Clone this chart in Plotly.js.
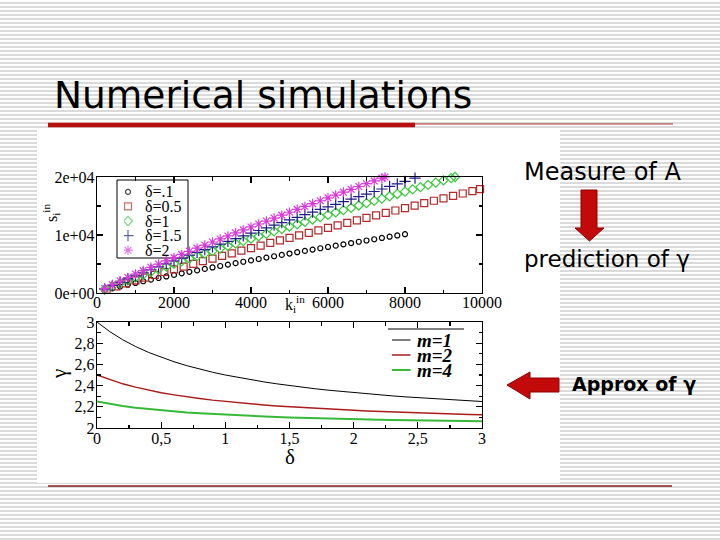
<!DOCTYPE html>
<html>
<head>
<meta charset="utf-8">
<script src="https://cdn.plot.ly/plotly-3.0.1.min.js"></script>
<style>
  html, body { margin:0; padding:0; }
  body {
    width:720px; height:540px; overflow:hidden;
    background: repeating-linear-gradient(to bottom, #ffffff 0px, #ffffff 2px, #dadada 2px, #dadada 4px);
  }
  #chart { width:720px; height:540px; }
</style>
</head>
<body>
<div id="chart"></div>
<script>
// ---------- top chart data: s_i^in versus k_i^in ----------
const deltaLabels = ["δ=.1", "δ=0.5", "δ=1", "δ=1.5", "δ=2"];

const kD01 = [200,400,600,800,1000,1200,1400,1600,1800,2000,2200,2400,2600,2800,3000,3200,3400,3600,3800,4000,
              4200,4400,4600,4800,5000,5200,5400,5600,5800,6000,6200,6400,6600,6800,7000,7200,7400,7600,7800,8000];
const sD01 = [441,794,1122,1432,1731,2022,2305,2582,2853,3121,3384,3643,3900,4154,4405,4653,4899,5143,5385,5625,
              5863,6100,6335,6568,6800,7031,7260,7487,7715,7940,8164,8387,8610,8832,9052,9270,9489,9707,9924,10139];

const kD05 = [250,500,750,1000,1250,1500,1750,2000,2250,2500,2750,3000,3250,3500,3750,4000,4250,4500,4750,5000,
              5250,5500,5750,6000,6250,6500,6750,7000,7250,7500,7750,8000,8250,8500,8750,9000,9250,9500,9750,9950];
const sD05 = [604,1143,1659,2162,2655,3140,3618,4090,4559,5023,5485,5941,6394,6845,7294,7740,8184,8626,9066,9505,
              9940,10375,10810,11241,11669,12100,12526,12952,13378,13803,14225,14646,15066,15485,15904,16321,16740,17154,17569,17900];

const kD1 = [200,400,600,800,1000,1200,1400,1600,1800,2000,2200,2400,2600,2800,3000,3200,3400,3600,3800,4000,
             4200,4400,4600,4800,5000,5200,5400,5600,5800,6000,6200,6400,6600,6800,7000,7200,7400,7600,7800,8000,
             8200,8400,8600,8800,9000,9200,9300];
const sD1 = [631,1178,1697,2199,2688,3167,3639,4103,4561,5015,5464,5910,6351,6789,7224,7656,8085,8512,8937,9359,
             9780,10199,10614,11028,11441,11851,12262,12668,13075,13480,13884,14288,14688,15088,15487,15884,16281,16677,17072,17466,
             17858,18250,18638,19029,19418,19807,20000];

const kD15 = [200,400,600,800,1000,1200,1400,1600,1800,2000,2200,2400,2600,2800,3000,3200,3400,3600,3800,4000,
              4200,4400,4600,4800,5000,5200,5400,5600,5800,6000,6200,6400,6600,6800,7000,7200,7400,7600,7800,8000,8260];
const sD15 = [695,1298,1869,2422,2961,3488,4008,4519,5024,5524,6019,6510,6996,7478,7957,8433,8906,9376,9844,10309,
              10773,11234,11691,12147,12602,13054,13506,13954,14402,14848,15293,15738,16179,16619,17059,17496,17934,18370,18805,19239,19800];

const kD2 = [200,400,600,800,1000,1200,1400,1600,1800,2000,2200,2400,2600,2800,3000,3200,3400,3600,3800,4000,
             4200,4400,4600,4800,5000,5200,5400,5600,5800,6000,6200,6400,6600,6800,7000,7200,7400,7480];
const sD2 = [768,1433,2065,2676,3270,3853,4428,4992,5549,6102,6648,7191,7727,8260,8789,9315,9837,10357,10874,11387,
             11899,12409,12914,13418,13920,14419,14919,15413,15908,16401,16892,17384,17871,18358,18843,19326,19809,20000];

const kTickVals = [0,2000,4000,6000,8000,10000];
const kTickText = ["0","2000","4000","6000","8000","10000"];
const sTickVals = [0,10000,20000];
const sTickText = ["0e+00","1e+04","2e+04"];

// ---------- bottom chart data: gamma versus delta ----------
const mLabels = ["m=1", "m=2", "m=4"];
const deltaVals = [0,0.1,0.2,0.3,0.4,0.5,0.6,0.7,0.8,0.9,1.0,1.1,1.2,1.3,1.4,1.5,1.6,1.7,1.8,1.9,2.0,
                   2.1,2.2,2.3,2.4,2.5,2.6,2.7,2.8,2.9,3.0];
const gammaM1 = [3.000,2.909,2.833,2.769,2.714,2.667,2.625,2.588,2.556,2.526,2.500,2.476,2.455,2.435,2.417,2.400,
                 2.385,2.370,2.357,2.345,2.333,2.323,2.313,2.303,2.294,2.286,2.278,2.270,2.263,2.256,2.250];
const gammaM2 = [2.500,2.455,2.417,2.385,2.357,2.333,2.313,2.294,2.278,2.263,2.250,2.238,2.227,2.217,2.208,2.200,
                 2.192,2.185,2.179,2.172,2.167,2.161,2.156,2.152,2.147,2.143,2.139,2.135,2.132,2.128,2.125];
const gammaM4 = [2.250,2.227,2.208,2.192,2.179,2.167,2.156,2.147,2.139,2.132,2.125,2.119,2.114,2.109,2.104,2.100,
                 2.096,2.093,2.089,2.086,2.083,2.081,2.078,2.076,2.074,2.071,2.069,2.068,2.066,2.064,2.063];

const dTickVals = [0,0.5,1,1.5,2,2.5,3];
const dTickText = ["0","0,5","1","1,5","2","2,5","3"];
const gTickVals = [2,2.2,2.4,2.6,2.8,3];
const gTickText = ["2","2,2","2,4","2,6","2,8","3"];

// ---------- styles ----------
const deltaColors  = ["#000000","#b22a2a","#3cc83c","#1e1e8a","#d83cd8"];
const deltaSymbols = ["circle-open","square-open","diamond-open","cross-thin-open","asterisk-open"];
const deltaSizes   = [5,7,7,8,8];
const mColors = ["#000000","#a81c1c","#38b838"];
const mWidths = [1,1.4,2];

// ---------- helpers (pixel -> paper) ----------
const W = 720, H = 540;
const px = v => v / W;
const py = v => 1 - v / H;
const SERIF = "Liberation Serif, Times New Roman, serif";
const SANS = "DejaVu Sans, Verdana, sans-serif";

const kSeries = [kD01, kD05, kD1, kD15, kD2];
const sSeries = [sD01, sD05, sD1, sD15, sD2];
const gSeries = [gammaM1, gammaM2, gammaM4];

const traces = [];
kSeries.forEach((k, i) => {
  traces.push({
    type: "scatter", mode: "markers", x: k, y: sSeries[i], name: deltaLabels[i],
    xaxis: "x", yaxis: "y", cliponaxis: false,
    marker: { symbol: deltaSymbols[i], size: deltaSizes[i], color: deltaColors[i],
              line: { color: deltaColors[i], width: 1.2 } }
  });
});
gSeries.forEach((g, i) => {
  traces.push({
    type: "scatter", mode: "lines", x: deltaVals, y: g, name: mLabels[i],
    xaxis: "x2", yaxis: "y2",
    line: { color: mColors[i], width: mWidths[i] }
  });
});
// legend keys (top chart)
traces.push({
  type: "scatter", mode: "markers", x: deltaLabels.map(() => 0), y: deltaLabels,
  xaxis: "x3", yaxis: "y3", hoverinfo: "skip",
  marker: { symbol: deltaSymbols, size: deltaSizes, color: deltaColors,
            line: { color: deltaColors, width: 1.2 } }
});
// legend keys (bottom chart)
traces.push({
  type: "scatter", mode: "markers", x: mLabels.map(() => 0), y: mLabels,
  xaxis: "x4", yaxis: "y4", hoverinfo: "skip",
  marker: { symbol: "line-ew", size: 15, color: mColors,
            line: { color: mColors, width: mWidths } }
});

const frame = {
  showline: true, linecolor: "#000", linewidth: 1.2, mirror: "allticks",
  ticks: "inside", ticklen: 6, tickwidth: 1.2, tickcolor: "#000",
  showgrid: false, zeroline: false,
  tickfont: { family: SERIF, size: 16, color: "#000" },
  tickmode: "array"
};

const layout = {
  width: W, height: H,
  margin: { l: 0, r: 0, t: 0, b: 0 },
  paper_bgcolor: "rgba(0,0,0,0)",
  plot_bgcolor: "rgba(0,0,0,0)",
  showlegend: false,
  font: { family: SERIF, color: "#000" },
  xaxis: Object.assign({}, frame, {
    domain: [px(97), px(482)], range: [0, 10000], anchor: "y", ticklabelstandoff: -5,
    tickvals: kTickVals, ticktext: kTickText,
    minor: { ticks: "inside", ticklen: 3.5, tickmode: "linear", tick0: 0, dtick: 1000, tickcolor: "#000", showgrid: false }
  }),
  yaxis: Object.assign({}, frame, {
    domain: [py(293), py(177)], range: [0, 20000], anchor: "x", ticklabelstandoff: -2,
    tickvals: sTickVals, ticktext: sTickText,
    minor: { ticks: "inside", ticklen: 3.5, tickmode: "linear", tick0: 0, dtick: 5000, tickcolor: "#000", showgrid: false }
  }),
  xaxis2: Object.assign({}, frame, {
    domain: [px(97), px(482)], range: [0, 3], anchor: "y2", ticklabelstandoff: -4,
    tickvals: dTickVals, ticktext: dTickText,
    minor: { ticks: "inside", ticklen: 3.5, tickmode: "linear", tick0: 0, dtick: 0.25, tickcolor: "#000", showgrid: false }
  }),
  yaxis2: Object.assign({}, frame, {
    domain: [py(428), py(322)], range: [2, 3], anchor: "x2", ticklabelstandoff: -2,
    tickvals: gTickVals, ticktext: gTickText,
    minor: { ticks: "inside", ticklen: 3.5, tickmode: "linear", tick0: 2, dtick: 0.1, tickcolor: "#000", showgrid: false }
  }),
  xaxis3: { domain: [px(124), px(144)], range: [-4, 16], visible: false, anchor: "y3", fixedrange: true },
  yaxis3: {
    domain: [py(257.5), py(184.5)], type: "category", categoryarray: deltaLabels, categoryorder: "array",
    tickmode: "array", tickvals: deltaLabels, ticktext: deltaLabels,
    range: [4.5, -0.5], anchor: "x3", side: "right", showline: false, ticks: "", showgrid: false, zeroline: false,
    tickfont: { family: SERIF, size: 16, color: "#000" }
  },
  xaxis4: { domain: [px(392), px(416)], range: [-8, 16], visible: false, anchor: "y4", fixedrange: true },
  yaxis4: {
    domain: [py(377.5), py(332.5)], type: "category", categoryarray: mLabels, categoryorder: "array",
    tickmode: "array", tickvals: mLabels, ticktext: mLabels,
    range: [2.5, -0.5], anchor: "x4", side: "right", showline: false, ticks: "", showgrid: false, zeroline: false,
    tickfont: { family: SERIF, size: 19, color: "#000", weight: "bold", style: "italic" }
  },
  shapes: [
    // white content panel
    { type: "rect", xref: "paper", yref: "paper", x0: px(37), x1: px(560), y0: py(483), y1: py(128),
      fillcolor: "#ffffff", line: { width: 0 }, layer: "below" },
    // top legend frame
    { type: "rect", xref: "paper", yref: "paper", x0: px(117), x1: px(188), y0: py(258), y1: py(180),
      fillcolor: "#ffffff", line: { color: "#000", width: 1 }, layer: "below" },
    // bottom legend top rule
    { type: "line", xref: "paper", yref: "paper", x0: px(388), x1: px(464), y0: py(329), y1: py(329),
      line: { color: "#000", width: 1 } },
    // title rules
    { type: "line", xref: "paper", yref: "paper", x0: px(48), x1: px(415), y0: py(125), y1: py(125),
      line: { color: "#b80f0f", width: 4.5 } },
    { type: "line", xref: "paper", yref: "paper", x0: px(415), x1: px(673), y0: py(124), y1: py(124),
      line: { color: "#a83030", width: 1 } },
    // bottom rule
    { type: "line", xref: "paper", yref: "paper", x0: px(48), x1: px(672), y0: py(486), y1: py(486),
      line: { color: "#8e1c1c", width: 1.5 } },
    // down arrow
    { type: "path", xref: "paper", yref: "paper",
      path: `M ${px(581)} ${py(190)} L ${px(597)} ${py(190)} L ${px(597)} ${py(228)} L ${px(604)} ${py(228)} L ${px(589.5)} ${py(241)} L ${px(575)} ${py(228)} L ${px(581)} ${py(228)} Z`,
      fillcolor: "#c20a0a", line: { color: "#8a0000", width: 1 } },
    // left arrow
    { type: "path", xref: "paper", yref: "paper",
      path: `M ${px(559)} ${py(378)} L ${px(559)} ${py(392)} L ${px(530)} ${py(392)} L ${px(530)} ${py(399)} L ${px(507)} ${py(385)} L ${px(530)} ${py(372)} L ${px(530)} ${py(378)} Z`,
      fillcolor: "#c20a0a", line: { color: "#8a0000", width: 1 } }
  ],
  annotations: [
    { text: "Numerical simulations", xref: "paper", yref: "paper", x: px(52), y: py(95),
      xanchor: "left", yanchor: "middle", showarrow: false,
      font: { family: SANS, size: 37.5, color: "#000" } },
    { text: "Measure of A", xref: "paper", yref: "paper", x: px(522), y: py(172),
      xanchor: "left", yanchor: "middle", showarrow: false,
      font: { family: SANS, size: 24, color: "#000" } },
    { text: "prediction of γ", xref: "paper", yref: "paper", x: px(522), y: py(259),
      xanchor: "left", yanchor: "middle", showarrow: false,
      font: { family: SANS, size: 23, color: "#000" } },
    { text: "<b>Approx of γ</b>", xref: "paper", yref: "paper", x: px(570), y: py(384),
      xanchor: "left", yanchor: "middle", showarrow: false,
      font: { family: SANS, size: 19, color: "#000" } },
    { text: "s<sub>i</sub><sup>in</sup>", xref: "paper", yref: "paper", x: px(51), y: py(213),
      xanchor: "center", yanchor: "middle", textangle: -90, showarrow: false,
      font: { family: SERIF, size: 16, color: "#000" } },
    { text: "k<sub>i</sub><sup>in</sup>", xref: "paper", yref: "paper", x: px(295), y: py(304),
      xanchor: "center", yanchor: "middle", showarrow: false,
      font: { family: SERIF, size: 16, color: "#000" } },
    { text: "γ", xref: "paper", yref: "paper", x: px(59), y: py(374),
      xanchor: "center", yanchor: "middle", textangle: -90, showarrow: false,
      font: { family: SERIF, size: 21, color: "#000" } },
    { text: "δ", xref: "paper", yref: "paper", x: px(290), y: py(457),
      xanchor: "center", yanchor: "middle", showarrow: false,
      font: { family: SERIF, size: 21, color: "#000" } }
  ]
};

Plotly.newPlot("chart", traces, layout, { staticPlot: true, displayModeBar: false });
</script>
</body>
</html>
